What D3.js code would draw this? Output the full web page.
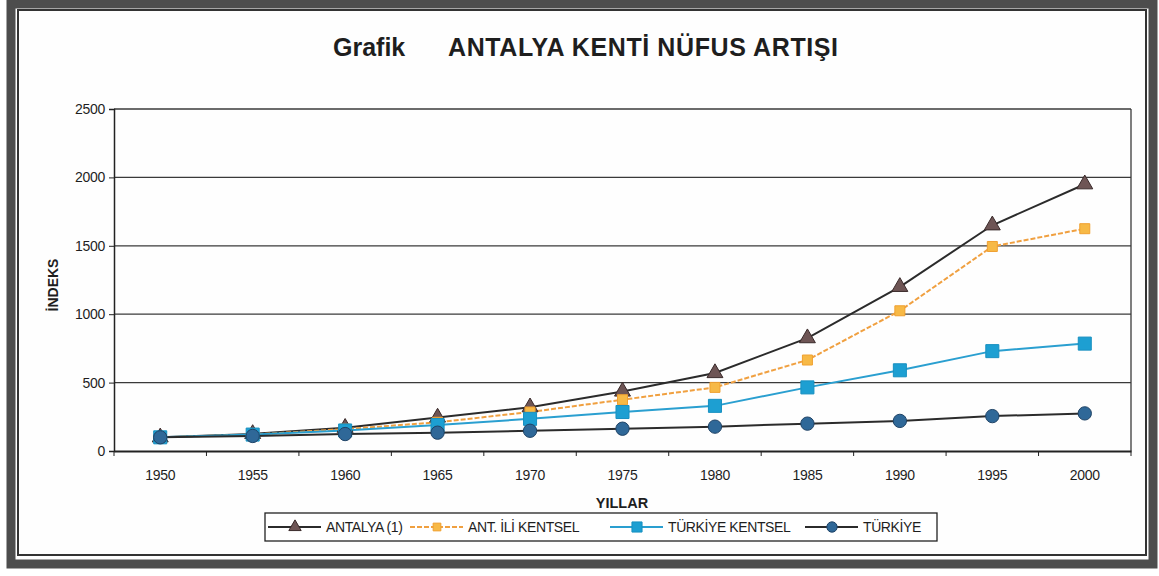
<!DOCTYPE html>
<html>
<head>
<meta charset="utf-8">
<script src="https://cdn.jsdelivr.net/npm/d3@7"></script>
<style>
  body { margin: 0; background: #fff; }
  text { font-family: "Liberation Sans", Arial, sans-serif; fill: #1e1e1e; }
</style>
</head>
<body>
<svg id="chart"></svg>
<script>
// Data
const years = ["1950", "1955", "1960", "1965", "1970", "1975", "1980", "1985", "1990", "1995", "2000"];
const antalya = [100, 125, 170, 245, 320, 435, 570, 825, 1200, 1650, 1950];
const antIliKentsel = [100, 120, 160, 210, 285, 375, 465, 665, 1025, 1495, 1625];
const turkiyeKentsel = [100, 120, 150, 190, 235, 285, 330, 465, 590, 730, 785];
const turkiye = [100, 110, 124, 134, 148, 163, 178, 200, 220, 255, 275];
const yTicks = [0, 500, 1000, 1500, 2000, 2500];

const width = 1159, height = 576;
const plot = { left: 114, right: 1131, top: 109, bottom: 451 };

const series = [
    { name: "ANTALYA (1)", values: antalya, line: "#2b2b2b", dash: null, marker: "triangle", fill: "#6e5555", stroke: "#3a2a2a", size: 110 },
    { name: "ANT. İLİ KENTSEL", values: antIliKentsel, line: "#f0a040", dash: "5,2", marker: "square", fill: "#f7b946", stroke: "#f0a030", size: 100 },
    { name: "TÜRKİYE KENTSEL", values: turkiyeKentsel, line: "#2a9fd0", dash: null, marker: "square", fill: "#1d9fd2", stroke: "#1890c0", size: 170 },
    { name: "TÜRKİYE", values: turkiye, line: "#2b2b2b", dash: null, marker: "circle", fill: "#2f6898", stroke: "#1f4366", size: 140 }
];

const svg = d3.select("#chart").attr("width", width).attr("height", height);

// Frame around the whole chart
svg.append("rect").attr("x", 11).attr("y", 4).attr("width", 1142).attr("height", 560)
    .attr("fill", "#fefefe").attr("stroke", "#4d4d4d").attr("stroke-width", 9);
svg.append("rect").attr("x", 18).attr("y", 10).attr("width", 1128).attr("height", 545)
    .attr("fill", "none").attr("stroke", "#333").attr("stroke-width", 2);

// Title
svg.append("text").attr("x", 333).attr("y", 56)
    .attr("font-size", 25).attr("font-weight", "bold").text("Grafik");
svg.append("text").attr("x", 448).attr("y", 56)
    .attr("font-size", 25).attr("font-weight", "bold").attr("letter-spacing", 0.6)
    .text("ANTALYA KENTİ NÜFUS ARTIŞI");

// Scales
const x = d3.scaleBand().domain(years).range([plot.left, plot.right]);
const y = d3.scaleLinear().domain([0, 2500]).range([plot.bottom, plot.top]);

// Gridlines
svg.append("g").selectAll("line").data(yTicks.filter(d => d > 0)).enter()
    .append("line")
    .attr("x1", plot.left).attr("x2", plot.right)
    .attr("y1", d => y(d)).attr("y2", d => y(d))
    .attr("stroke", "#3a3a3a").attr("stroke-width", 1.3);

// Right border of plot area
svg.append("line").attr("x1", plot.right).attr("x2", plot.right)
    .attr("y1", plot.top).attr("y2", plot.bottom)
    .attr("stroke", "#3a3a3a").attr("stroke-width", 1.3);

// Y axis
const yAxis = svg.append("g").attr("transform", `translate(${plot.left},0)`)
    .call(d3.axisLeft(y).tickValues(yTicks).tickFormat(d3.format("d")).tickSize(5).tickPadding(4));
yAxis.select(".domain").attr("stroke", "#222").attr("stroke-width", 1.5);
yAxis.selectAll(".tick line").attr("stroke", "#222");
yAxis.selectAll("text").attr("font-size", 14).attr("letter-spacing", -0.3)
    .attr("font-family", "'Liberation Sans', Arial, sans-serif").attr("fill", "#1e1e1e");

// X axis
const xAxis = svg.append("g").attr("transform", `translate(0,${plot.bottom})`)
    .call(d3.axisBottom(x).tickSize(0).tickPadding(19));
xAxis.select(".domain").attr("stroke", "#222").attr("stroke-width", 1.8);
xAxis.selectAll("text").attr("font-size", 14).attr("letter-spacing", -0.3)
    .attr("font-family", "'Liberation Sans', Arial, sans-serif").attr("fill", "#1e1e1e");
// tick marks between categories
xAxis.selectAll(".sep").data(d3.range(years.length + 1)).enter()
    .append("line")
    .attr("x1", i => plot.left + i * x.step()).attr("x2", i => plot.left + i * x.step())
    .attr("y1", 0).attr("y2", 5)
    .attr("stroke", "#222");

// Axis titles
svg.append("text")
    .attr("transform", `translate(58,${(plot.top + plot.bottom) / 2 + 5}) rotate(-90)`)
    .attr("text-anchor", "middle").attr("font-size", 14).attr("font-weight", "bold")
    .text("İNDEKS");
svg.append("text").attr("x", 622).attr("y", 508)
    .attr("text-anchor", "middle").attr("font-size", 14.5).attr("font-weight", "bold")
    .text("YILLAR");

// Lines and markers
const symbolType = { triangle: d3.symbolTriangle, square: d3.symbolSquare, circle: d3.symbolCircle };
const line = d3.line()
    .x((d, i) => x(years[i]) + x.bandwidth() / 2)
    .y(d => y(d));

series.forEach(s => {
    svg.append("path")
        .datum(s.values)
        .attr("d", line)
        .attr("fill", "none")
        .attr("stroke", s.line)
        .attr("stroke-width", 2)
        .attr("stroke-dasharray", s.dash);
});

series.forEach(s => {
    svg.append("g").selectAll("path").data(s.values).enter()
        .append("path")
        .attr("transform", (d, i) => `translate(${x(years[i]) + x.bandwidth() / 2},${y(d)})`)
        .attr("d", d3.symbol().type(symbolType[s.marker]).size(s.size))
        .attr("fill", s.fill)
        .attr("stroke", s.stroke)
        .attr("stroke-width", 1);
});

// Legend
const legend = svg.append("g");
legend.append("rect").attr("x", 265).attr("y", 513).attr("width", 672).attr("height", 28)
    .attr("fill", "#fff").attr("stroke", "#222").attr("stroke-width", 1.3);

const legendX = [268, 410, 610, 805];
series.forEach((s, i) => {
    const lx = legendX[i], ly = 527;
    legend.append("line")
        .attr("x1", lx).attr("x2", lx + 53).attr("y1", ly).attr("y2", ly)
        .attr("stroke", s.line).attr("stroke-width", 2)
        .attr("stroke-dasharray", s.dash);
    legend.append("path")
        .attr("transform", `translate(${lx + 27},${ly})`)
        .attr("d", d3.symbol().type(symbolType[s.marker]).size(s.size * 0.6))
        .attr("fill", s.fill).attr("stroke", s.stroke);
    legend.append("text")
        .attr("x", lx + 58).attr("y", ly + 5)
        .attr("font-size", 14).attr("letter-spacing", -0.4)
        .text(s.name);
});
</script>
</body>
</html>
